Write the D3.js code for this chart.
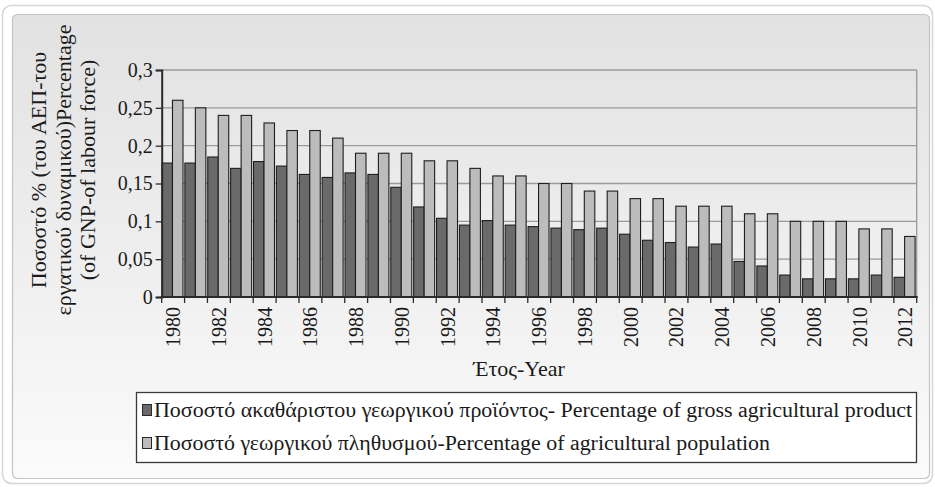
<!DOCTYPE html>
<html>
<head>
<meta charset="utf-8">
<script src="https://cdn.jsdelivr.net/npm/d3@7/dist/d3.min.js"></script>
</head>
<body style="margin:0;background:#ffffff">
<svg id="chart" width="935" height="487" style="display:block;font-family:'Liberation Serif', serif"></svg>
<script>
// ---- data ----
const years = [1980,1981,1982,1983,1984,1985,1986,1987,1988,1989,1990,1991,1992,1993,1994,1995,1996,1997,1998,1999,2000,2001,2002,2003,2004,2005,2006,2007,2008,2009,2010,2011,2012];
const grossProduct = [0.177,0.177,0.185,0.170,0.179,0.173,0.162,0.158,0.164,0.162,0.145,0.119,0.104,0.095,0.101,0.095,0.093,0.091,0.089,0.091,0.083,0.075,0.072,0.066,0.070,0.047,0.041,0.029,0.024,0.024,0.024,0.029,0.026];
const agriPopulation = [0.26,0.25,0.24,0.24,0.23,0.22,0.22,0.21,0.19,0.19,0.19,0.18,0.18,0.17,0.16,0.16,0.15,0.15,0.14,0.14,0.13,0.13,0.12,0.12,0.12,0.11,0.11,0.10,0.10,0.10,0.09,0.09,0.08];
const yTicks = [0,0.05,0.1,0.15,0.2,0.25,0.3];
const seriesNames = [
  "Ποσοστό ακαθάριστου γεωργικού προϊόντος- Percentage of gross agricultural product",
  "Ποσοστό γεωργικού πληθυσμού-Percentage of agricultural population"
];
const yTitleLines = ["Ποσοστό % (του ΑΕΠ-του", "εργατικού δυναμικού)Percentage", "(of GNP-of labour force)"];
const xTitle = "Έτος-Year";

// ---- layout ----
const INK = "#1a1a1a";
const svg = d3.select("#chart");
const plot = {left: 161.7, right: 916.7, top: 70, bottom: 297};
const colors = ["#6a6a6a", "#bcbcbf"];

function styleText(sel, size) {
  return sel.attr("font-family", "Liberation Serif")
    .attr("style", `font-family:'Liberation Serif';font-size:${size}px`)
    .attr("fill", INK);
}

// frame
const defs = svg.append("defs");
const grad = defs.append("linearGradient").attr("id","bg").attr("x1",0).attr("y1",0).attr("x2",0).attr("y2",1);
grad.append("stop").attr("offset","0%").attr("stop-color","#e2e2e2");
grad.append("stop").attr("offset","55%").attr("stop-color","#efefef");
grad.append("stop").attr("offset","100%").attr("stop-color","#fbfbfb");
svg.append("rect").attr("x",2.5).attr("y",5.5).attr("width",930).attr("height",478).attr("rx",9)
  .attr("fill","#ffffff").attr("stroke","#d6d6d6").attr("stroke-width",1.5);
svg.append("rect").attr("x",12.5).attr("y",14.5).attr("width",917).attr("height",464).attr("rx",5)
  .attr("fill","url(#bg)").attr("stroke","#c4c4c4").attr("stroke-width",1.2);

// scales
const x = d3.scaleBand().domain(years).range([plot.left, plot.right]).padding(0);
const bw = x.bandwidth();
const xs = d3.scaleBand().domain([0,1]).range([0.3, bw - 1.6]).padding(0);
const y = d3.scaleLinear().domain([0,0.3]).range([plot.bottom, plot.top]);
const fmt = d => String(d).replace(".", ",");

// gridlines
svg.append("g").selectAll("line").data(yTicks.filter(d => d > 0)).join("line")
  .attr("x1", plot.left).attr("x2", plot.right)
  .attr("y1", d => y(d)).attr("y2", d => y(d))
  .attr("stroke","#9a9a9a").attr("stroke-width",1.3);
svg.append("line").attr("x1",plot.right).attr("x2",plot.right).attr("y1",plot.top).attr("y2",plot.bottom)
  .attr("stroke","#9a9a9a").attr("stroke-width",1.3);

// bars
const series = [grossProduct, agriPopulation];
const gBars = svg.append("g");
series.forEach((vals, si) => {
  gBars.append("g").selectAll("rect").data(years.map((yr,i) => ({yr, v: vals[i]}))).join("rect")
    .attr("x", d => x(d.yr) + xs(si))
    .attr("width", xs.bandwidth())
    .attr("y", d => y(d.v))
    .attr("height", d => y(0) - y(d.v))
    .attr("fill", colors[si])
    .attr("stroke", "#1e1e1e").attr("stroke-width", 1.1);
});

// y axis
const yAxis = svg.append("g").attr("transform", `translate(${plot.left},0)`)
  .call(d3.axisLeft(y).tickValues(yTicks).tickFormat(fmt).tickSize(6).tickPadding(3))
  .attr("font-family", "Liberation Serif").attr("font-size", 20);
yAxis.select(".domain").attr("stroke","#2a2a2a").attr("stroke-width",2);
yAxis.selectAll(".tick line").attr("stroke","#2a2a2a").attr("stroke-width",1.3);
styleText(yAxis.selectAll("text"), 20);

// x axis: ticks at category boundaries
const bounds = years.map(yr => x(yr)).concat([plot.right]);
const xAxisG = svg.append("g");
xAxisG.append("line").attr("x1", plot.left - 1).attr("x2", plot.right + 1)
  .attr("y1", plot.bottom).attr("y2", plot.bottom).attr("stroke","#2a2a2a").attr("stroke-width",2);
xAxisG.selectAll("line.tk").data(bounds).join("line").attr("class","tk")
  .attr("x1", d => d).attr("x2", d => d).attr("y1", plot.bottom).attr("y2", plot.bottom + 6)
  .attr("stroke","#2a2a2a").attr("stroke-width",1.3);
styleText(xAxisG.selectAll("text").data(years.filter((d,i) => i % 2 === 0)).join("text")
  .attr("transform", d => `translate(${x(d) + bw/2},${plot.bottom + 10}) rotate(-90)`)
  .attr("text-anchor","end").attr("dominant-baseline","central")
  .text(d => d), 20);

// x title
styleText(svg.append("text").attr("x", 519).attr("y", 376).attr("text-anchor","middle").text(xTitle), 22);

// y title
const yTitleX = [38, 63, 87];
yTitleLines.forEach((t, i) => {
  styleText(svg.append("text")
    .attr("transform", `translate(${yTitleX[i]},${170}) rotate(-90)`)
    .attr("text-anchor","middle").attr("dominant-baseline","central")
    .text(t), 22);
});

// legend
svg.append("rect").attr("x",136.5).attr("y",392.5).attr("width",780).attr("height",70)
  .attr("fill","#ffffff").attr("stroke","#3a3a3a").attr("stroke-width",1.3);
const legendY = [410, 443];
const legendTarget = [758, 616];
seriesNames.forEach((name, i) => {
  svg.append("rect").attr("x",142.5).attr("y",legendY[i]-5.5).attr("width",9).attr("height",11)
    .attr("fill",colors[i]).attr("stroke","#2a2a2a").attr("stroke-width",1);
  const t = styleText(svg.append("text").attr("x",154).attr("y",legendY[i]).attr("dominant-baseline","central")
    .text(name), 20);
  const w = t.node().getComputedTextLength();
  if (Math.abs(w - legendTarget[i]) > 4) t.attr("textLength", legendTarget[i]).attr("lengthAdjust","spacingAndGlyphs");
});
</script>
</body>
</html>
